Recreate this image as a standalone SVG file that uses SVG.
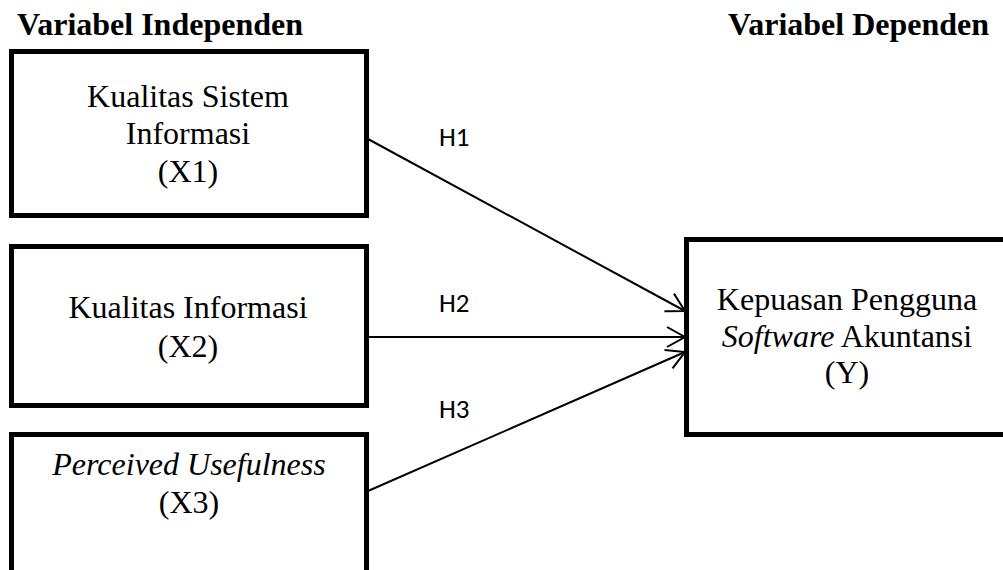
<svg xmlns="http://www.w3.org/2000/svg" width="1003" height="570" viewBox="0 0 1003 570">
  <style>
    .box { fill: #ffffff; stroke: #000000; stroke-width: 5; }
    .t { font-family: "Liberation Serif", "Times New Roman", serif; font-size: 32px; fill: #000; text-anchor: middle; }
    .title { font-family: "Liberation Serif", "Times New Roman", serif; font-size: 32px; font-weight: bold; fill: #000; }
    .h { font-family: "Carlito", "Open Sans", "Liberation Sans", sans-serif; font-size: 27px; fill: #000; }
    .conn { stroke: #000; stroke-width: 2; fill: none; }
  </style>
  <defs>
    <marker id="arrow" markerUnits="userSpaceOnUse" markerWidth="24" markerHeight="24" refX="20" refY="12" orient="auto">
      <path d="M2,2 L20,12 L2,22" fill="none" stroke="#000" stroke-width="2"/>
    </marker>
  </defs>
  <rect width="1003" height="570" fill="#ffffff"/>

  <text class="title" x="17" y="35">Variabel Independen</text>
  <text class="title" x="728" y="35">Variabel Dependen</text>

  <g id="connectors">
    <line class="conn" x1="368" y1="139" x2="685" y2="311" marker-end="url(#arrow)"/>
    <line class="conn" x1="368" y1="337" x2="685" y2="337" marker-end="url(#arrow)"/>
    <line class="conn" x1="368" y1="491" x2="685" y2="352" marker-end="url(#arrow)"/>
    <text class="h" x="439" y="146">H1</text>
    <text class="h" x="439" y="312">H2</text>
    <text class="h" x="439" y="418">H3</text>
  </g>

  <g id="x1">
    <rect class="box" x="11.5" y="51.5" width="355" height="164"/>
    <text class="t" x="188" y="107">Kualitas Sistem</text>
    <text class="t" x="188" y="144">Informasi</text>
    <text class="t" x="188" y="182">(X1)</text>
  </g>

  <g id="x2">
    <rect class="box" x="11.5" y="246.5" width="355" height="159"/>
    <text class="t" x="188" y="318">Kualitas Informasi</text>
    <text class="t" x="188" y="357">(X2)</text>
  </g>

  <g id="x3">
    <rect class="box" x="11.5" y="434.5" width="355" height="145"/>
    <text class="t" x="189" y="475" font-style="italic">Perceived Usefulness</text>
    <text class="t" x="189" y="513">(X3)</text>
  </g>

  <g id="y">
    <rect class="box" x="686.5" y="239.5" width="322" height="195"/>
    <text class="t" x="847" y="310">Kepuasan Pengguna</text>
    <text class="t" x="847" y="347"><tspan font-style="italic">Software</tspan> Akuntansi</text>
    <text class="t" x="847" y="383">(Y)</text>
  </g>
</svg>
